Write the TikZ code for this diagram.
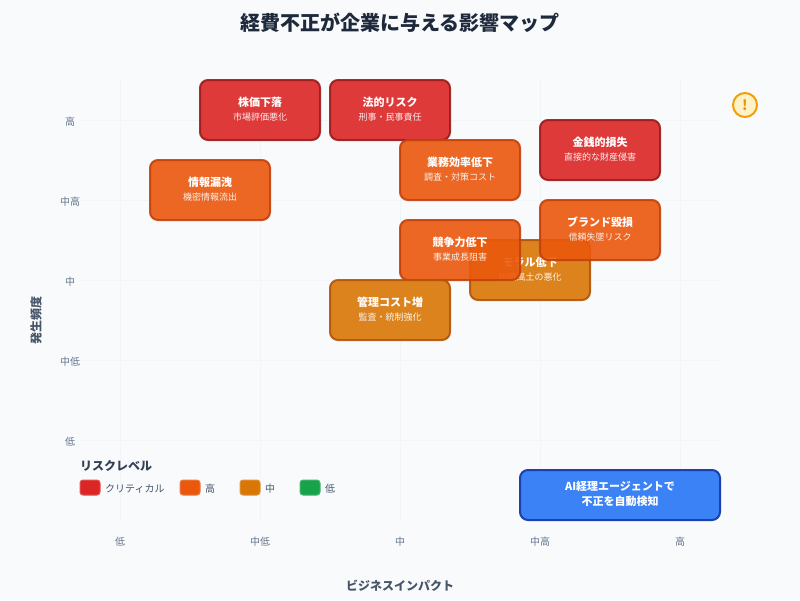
\documentclass[tikz,border=0pt]{standalone}
\usepackage{fontspec}
\setmainfont{Noto Sans CJK JP}
\usetikzlibrary{calc}
\definecolor{bgc}{HTML}{F8FAFC}
\definecolor{gridc}{HTML}{F1F5F9}
\definecolor{titlec}{HTML}{1E293B}
\definecolor{axisc}{HTML}{64748B}
\definecolor{axistc}{HTML}{475569}
\definecolor{legtc}{HTML}{334155}
\definecolor{crit}{HTML}{DC2626}
\definecolor{critd}{HTML}{991B1B}
\definecolor{high}{HTML}{EA580C}
\definecolor{highd}{HTML}{C2410C}
\definecolor{midc}{HTML}{D97706}
\definecolor{midd}{HTML}{B45309}
\definecolor{lowc}{HTML}{16A34A}
\definecolor{bluec}{HTML}{3B82F6}
\definecolor{blued}{HTML}{1E40AF}
\definecolor{warnf}{HTML}{FEF3C7}
\definecolor{warnd}{HTML}{F59E0B}
\tikzset{
  x=1pt,y=-1pt,
  gridline/.style={draw=gridc,line width=1pt},
  riskbox/.style={rounded corners=8pt,line width=2pt,outer sep=0pt,minimum width=120pt,minimum height=60pt,inner sep=0pt,anchor=north west,fill opacity=.9,draw opacity=.9},
  critbox/.style={riskbox,fill=crit,draw=critd},
  highbox/.style={riskbox,fill=high,draw=highd},
  midbox/.style={riskbox,fill=midc,draw=midd},
  boxtitle/.style={font=\fontsize{11}{13}\selectfont\bfseries,text=white,inner sep=0pt},
  boxsub/.style={font=\fontsize{9}{11}\selectfont,text=white,text opacity=.9,inner sep=0pt},
  ticklabel/.style={font=\fontsize{10}{12}\selectfont,text=axisc,inner sep=0pt},
  axistitle/.style={font=\fontsize{12}{14}\selectfont\bfseries,text=axistc,inner sep=0pt},
  swatch/.style={rounded corners=3pt,line width=1pt,outer sep=0pt,minimum width=20pt,minimum height=15pt,inner sep=0pt,anchor=north west},
  leglabel/.style={font=\fontsize{10}{12}\selectfont,text=axistc,inner sep=0pt,anchor=west},
}
\newcommand{\riskitem}[6]{%
  \node[#4] (#1) at (#2,#3) {};
  \node[boxtitle] (#1t) at ($(#1.north)+(0,22)$) {#5};
  \node[boxsub] (#1s) at ($(#1.north)+(0,37)$) {#6};
}
\begin{document}
\begin{tikzpicture}
\useasboundingbox (0,0) rectangle (800,600);
\fill[bgc] (0,0) rectangle (800,600);
\foreach \vx in {120,260,400,540,680} \draw[gridline] (\vx,80) -- (\vx,520);
\foreach \hy in {120,200,280,360,440} \draw[gridline] (80,\hy) -- (720,\hy);
\node[font=\fontsize{20}{24}\selectfont\bfseries,text=titlec,inner sep=0pt] (title) at (400,23) {経費不正が企業に与える影響マップ};
\node[ticklabel] (y1) at (70,122) {高};
\node[ticklabel] (y2) at (70,202) {中高};
\node[ticklabel] (y3) at (70,282) {中};
\node[ticklabel] (y4) at (70,362) {中低};
\node[ticklabel] (y5) at (70,442) {低};
\node[ticklabel] (x1) at (120,542) {低};
\node[ticklabel] (x2) at (260,542) {中低};
\node[ticklabel] (x3) at (400,542) {中};
\node[ticklabel] (x4) at (540,542) {中高};
\node[ticklabel] (x5) at (680,542) {高};
\node[axistitle,rotate=90] (yaxis) at (36,320) {発生頻度};
\node[axistitle] (xaxis) at (400,586) {ビジネスインパクト};
\riskitem{kabu}{200}{80}{critbox}{株価下落}{市場評価悪化}
\riskitem{hou}{330}{80}{critbox}{法的リスク}{刑事・民事責任}
\riskitem{kin}{540}{120}{critbox}{金銭的損失}{直接的な財産侵害}
\riskitem{joho}{150}{160}{highbox}{情報漏洩}{機密情報流出}
\riskitem{gyo}{400}{140}{highbox}{業務効率低下}{調査・対策コスト}
\riskitem{moral}{470}{240}{midbox}{モラル低下}{組織風土の悪化}
\riskitem{kyo}{400}{220}{highbox}{競争力低下}{事業成長阻害}
\riskitem{brand}{540}{200}{highbox}{ブランド毀損}{信頼失墜リスク}
\riskitem{kan}{330}{280}{midbox}{管理コスト増}{監査・統制強化}
\node[font=\fontsize{12}{14}\selectfont\bfseries,text=legtc,inner sep=0pt,anchor=west] (legt) at (80,466) {リスクレベル};
\node[swatch,fill=crit,draw=crit!80!white] (s1) at (80,480) {};
\node[leglabel] (l1) at (105,489) {クリティカル};
\node[swatch,fill=high,draw=high!80!white] (s2) at (180,480) {};
\node[leglabel] (l2) at (205,489) {高};
\node[swatch,fill=midc,draw=midc!80!white] (s3) at (240,480) {};
\node[leglabel] (l3) at (265,489) {中};
\node[swatch,fill=lowc,draw=lowc!80!white] (s4) at (300,480) {};
\node[leglabel] (l4) at (325,489) {低};
\node[rounded corners=8pt,line width=2pt,outer sep=0pt,fill=bluec,draw=blued,minimum width=200pt,minimum height=50pt,inner sep=0pt,anchor=north west] (ai) at (520,470) {};
\node[font=\fontsize{11}{15}\selectfont\bfseries,text=white,align=center,inner sep=0pt] (ait) at ($(ai.center)+(0,-1.5)$) {AI経理エージェントで\\不正を自動検知};
\node[circle,fill=warnf,draw=warnd,line width=2pt,outer sep=0pt,minimum size=24pt,inner sep=0pt] (warn) at (745,105) {};
\node[font=\fontsize{14}{16}\selectfont\bfseries,text=warnd!70!midc,inner sep=0pt] (warnt) at (warn.center) {!};
\end{tikzpicture}
\end{document}
